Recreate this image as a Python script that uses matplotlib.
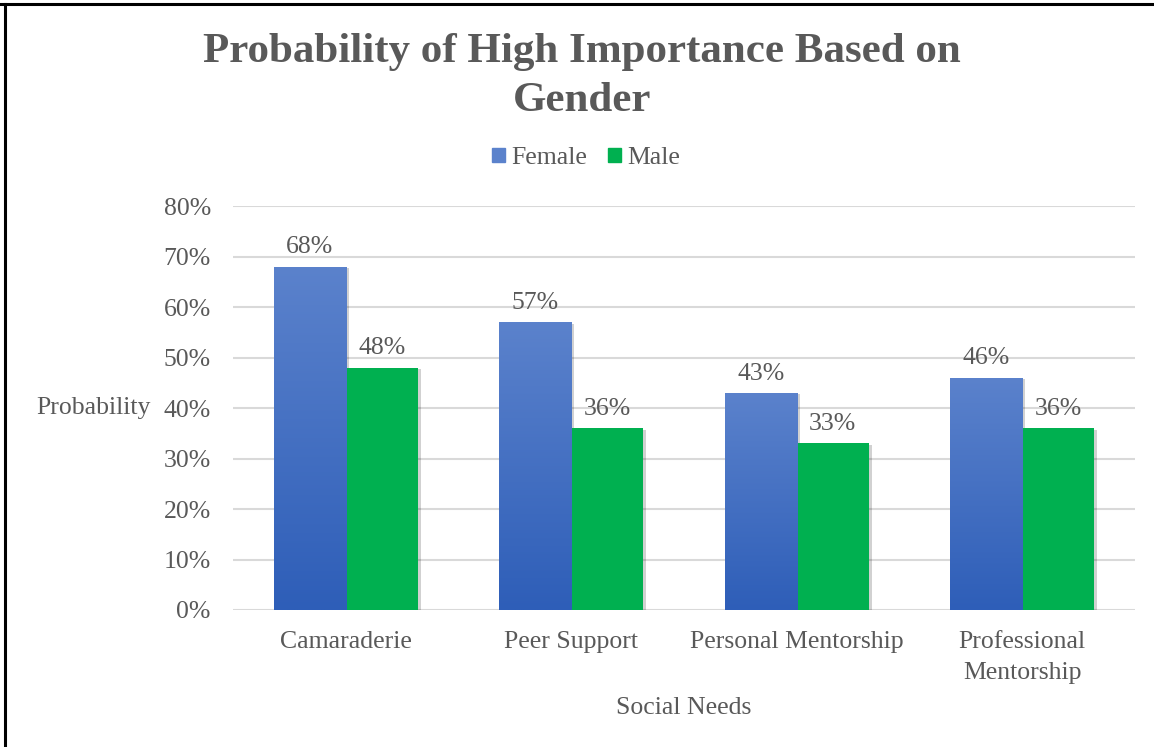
import matplotlib.pyplot as plt
import matplotlib.patheffects as pe
from matplotlib.lines import Line2D
from matplotlib.patches import Patch
from matplotlib.colors import LinearSegmentedColormap
from matplotlib.ticker import PercentFormatter
import numpy as np

plt.rcParams["font.family"] = ["Liberation Serif", "DejaVu Serif"]

categories = ["Camaraderie", "Peer Support", "Personal Mentorship", "Professional\nMentorship"]
female = [0.68, 0.57, 0.43, 0.46]
male = [0.48, 0.36, 0.33, 0.36]

TEXT = "#595959"
GRID = "#D9D9D9"
BLUE_TOP = "#5B82CC"
BLUE_BOT = "#2E5EB8"
GREEN = "#00B050"
FS = 18.5

fig = plt.figure(figsize=(11.54, 7.47), dpi=100)
ax = fig.add_axes([233 / 1154, 1 - 610 / 747, (1135 - 233) / 1154, (610 - 206) / 747])

x = np.arange(len(categories))
w = 0.32
shadow = [pe.SimplePatchShadow(offset=(2, -1), alpha=0.18, shadow_rgbFace="black"), pe.Normal()]

bars_f = ax.bar(x - w / 2, female, w, color=BLUE_BOT, zorder=3, path_effects=shadow)
bars_m = ax.bar(x + w / 2, male, w, color=GREEN, zorder=3, path_effects=shadow)

# vertical gradient on the female bars
grad = np.linspace(0, 1, 256).reshape(-1, 1)
cmap = LinearSegmentedColormap.from_list("fb", [BLUE_BOT, BLUE_TOP])
for b in bars_f:
    x0, y0 = b.get_x(), b.get_y()
    im = ax.imshow(grad, cmap=cmap, aspect="auto", origin="lower",
                   extent=[x0, x0 + b.get_width(), y0, y0 + b.get_height()], zorder=3.5)
    im.set_clip_path(b)

for bars in (bars_f, bars_m):
    for b in bars:
        ax.annotate(f"{b.get_height() * 100:.0f}%", (b.get_x() + b.get_width() / 2, b.get_height()),
                    xytext=(0, 6), textcoords="offset points", ha="center", va="bottom",
                    fontsize=FS, color=TEXT, zorder=5)

ax.set_xlim(-0.5, len(categories) - 0.5)
ax.set_ylim(0, 0.8)
ax.set_yticks(np.arange(0, 0.81, 0.1))
ax.yaxis.set_major_formatter(PercentFormatter(1.0, decimals=0))
ax.set_xticks(x)
ax.set_xticklabels(categories, linespacing=1.55)
ax.tick_params(axis="both", length=0, labelsize=FS, labelcolor=TEXT)
ax.tick_params(axis="x", pad=15)
ax.tick_params(axis="y", pad=16)
ax.grid(axis="y", color=GRID, linewidth=1.5, zorder=0)
for s in ax.spines.values():
    s.set_visible(False)

ax.set_xlabel("Social Needs", fontsize=FS, color=TEXT, labelpad=9)
ax.set_ylabel("Probability", fontsize=FS, color=TEXT, rotation=0, ha="right", va="center")
ax.yaxis.set_label_coords(-0.091, 0.5)

fig.text(582 / 1154, 1 - 33 / 747, "Probability of High Importance Based on\nGender",
         ha="center", va="top", fontsize=31, fontweight="bold", color=TEXT, linespacing=1.38)

handles = [Patch(color=BLUE_TOP), Patch(color=GREEN)]
fig.legend(handles, ["Female", "Male"], loc="center", bbox_to_anchor=(586 / 1154, 1 - 158 / 747),
           ncol=2, frameon=False, fontsize=FS, labelcolor=TEXT, handlelength=0.5, handleheight=0.5,
           handletextpad=0.25, columnspacing=0.8)

# border on top and left
fig.add_artist(Line2D([0, 1], [1 - 4 / 747] * 2, color="black", linewidth=2.2, transform=fig.transFigure))
fig.add_artist(Line2D([5 / 1154] * 2, [0, 1 - 4 / 747], color="black", linewidth=2.2, transform=fig.transFigure))

fig.savefig("out.png", dpi=100, facecolor="white")
